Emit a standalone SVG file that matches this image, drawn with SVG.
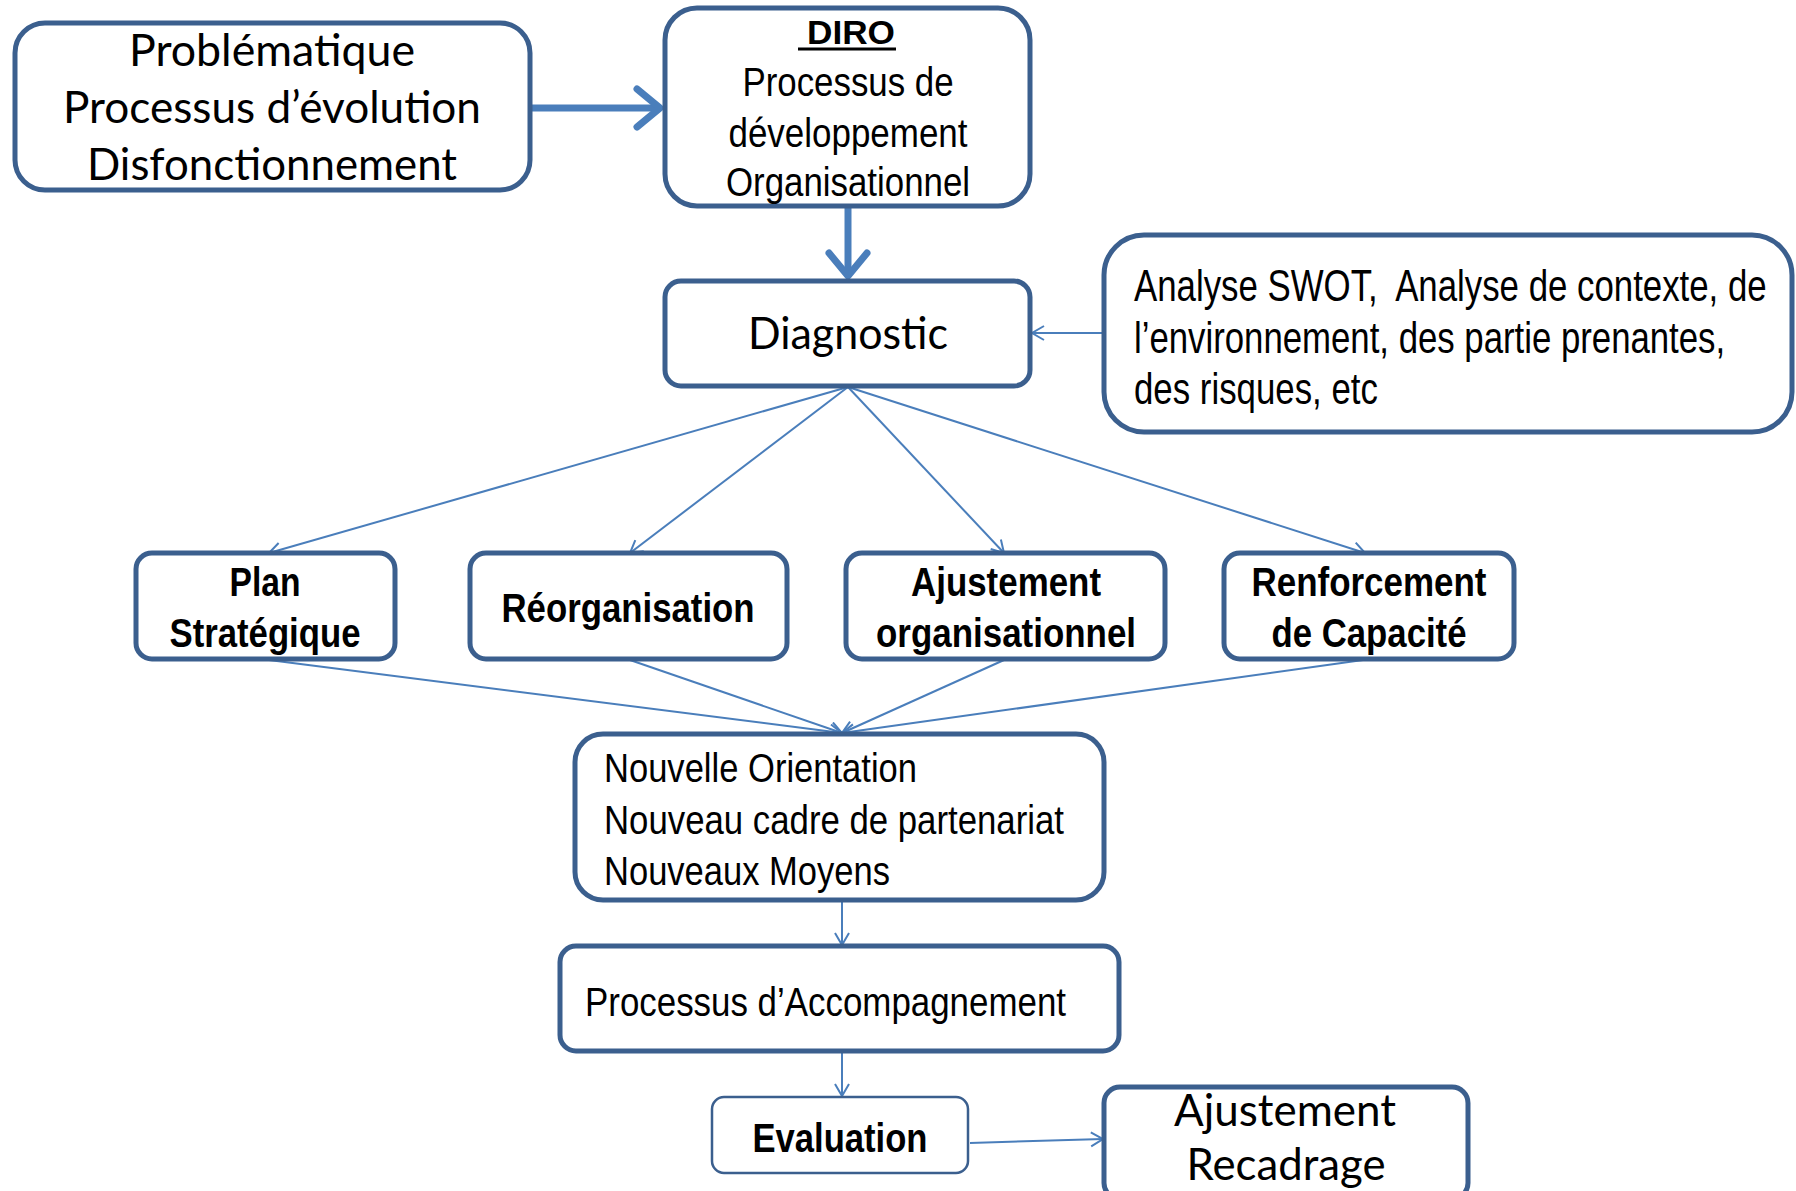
<svg xmlns="http://www.w3.org/2000/svg" width="1796" height="1191" viewBox="0 0 1796 1191">
<style>
.box{fill:#fff;stroke:#3B5F8E;stroke-width:5}
.thinbox{fill:#fff;stroke:#3B5F8E;stroke-width:2.5}
.cal{font-family:Lato,"Noto Sans",sans-serif;fill:#000}
.ar{font-family:"Liberation Sans",Arial,sans-serif;fill:#000}
.arb{font-family:"Liberation Sans",Arial,sans-serif;font-weight:bold;fill:#000}
.thin{stroke:#4A7EBB;stroke-width:2;fill:none}
.thick{stroke:#4A7EBB;stroke-width:7;fill:none}
</style>
<defs>
<marker id="ah" markerUnits="userSpaceOnUse" markerWidth="20" markerHeight="20" refX="13" refY="8" orient="auto">
<path d="M1,1 L13,8 L1,15" fill="none" stroke="#4A7EBB" stroke-width="2"/>
</marker>
<marker id="ahT" markerUnits="userSpaceOnUse" markerWidth="40" markerHeight="50" refX="30" refY="24" orient="auto">
<path d="M6,5 L29,24 L6,43" fill="none" stroke="#4A7EBB" stroke-width="7" stroke-linecap="round" stroke-linejoin="round"/>
</marker>
</defs>

<g id="connectors">
<line class="thick" x1="530" y1="108" x2="661" y2="108" marker-end="url(#ahT)"/>
<line class="thick" x1="848" y1="206" x2="848" y2="277" marker-end="url(#ahT)"/>
<line class="thin" x1="1104" y1="333" x2="1032" y2="333" marker-end="url(#ah)"/>
<line class="thin" x1="848" y1="387" x2="269" y2="553" marker-end="url(#ah)"/>
<line class="thin" x1="848" y1="387" x2="630" y2="553" marker-end="url(#ah)"/>
<line class="thin" x1="848" y1="387" x2="1004" y2="553" marker-end="url(#ah)"/>
<line class="thin" x1="848" y1="387" x2="1365" y2="553" marker-end="url(#ah)"/>
<line class="thin" x1="269" y1="660" x2="842" y2="733" marker-end="url(#ah)"/>
<line class="thin" x1="630" y1="660" x2="842" y2="733" marker-end="url(#ah)"/>
<line class="thin" x1="1004" y1="660" x2="842" y2="733" marker-end="url(#ah)"/>
<line class="thin" x1="1363" y1="660" x2="842" y2="733" marker-end="url(#ah)"/>
<line class="thin" x1="842" y1="901" x2="842" y2="945" marker-end="url(#ah)"/>
<line class="thin" x1="842" y1="1053" x2="842" y2="1096" marker-end="url(#ah)"/>
<line class="thin" x1="970" y1="1143" x2="1103" y2="1139" marker-end="url(#ah)"/>
</g>

<g id="n-problematique">
<rect class="box" x="15" y="23" width="515" height="167" rx="30"/>
<text class="cal" font-size="44" x="272" y="66" text-anchor="middle" textLength="286" lengthAdjust="spacingAndGlyphs">Problématique</text>
<text class="cal" font-size="44" x="272" y="123" text-anchor="middle" textLength="418" lengthAdjust="spacingAndGlyphs">Processus d’évolution</text>
<text class="cal" font-size="44" x="272" y="180" text-anchor="middle" textLength="370" lengthAdjust="spacingAndGlyphs">Disfonctionnement</text>
</g>

<g id="n-diro">
<rect class="box" x="665" y="8" width="365" height="198" rx="32"/>
<text class="arb" font-size="34" x="851" y="44" text-anchor="middle" textLength="88" lengthAdjust="spacingAndGlyphs">DIRO</text>
<line x1="798" y1="49" x2="896" y2="49" stroke="#000" stroke-width="3"/>
<text class="ar" font-size="40" x="848" y="96" text-anchor="middle" textLength="211" lengthAdjust="spacingAndGlyphs">Processus de</text>
<text class="ar" font-size="40" x="848" y="147" text-anchor="middle" textLength="239" lengthAdjust="spacingAndGlyphs">développement</text>
<text class="ar" font-size="40" x="848" y="196" text-anchor="middle" textLength="244" lengthAdjust="spacingAndGlyphs">Organisationnel</text>
</g>

<g id="n-diagnostic">
<rect class="box" x="665" y="281" width="365" height="105" rx="16"/>
<text class="cal" font-size="44" x="848" y="349" text-anchor="middle" textLength="200" lengthAdjust="spacingAndGlyphs">Diagnostic</text>
</g>

<g id="n-analyse">
<rect class="box" x="1104" y="235" width="688" height="197" rx="40"/>
<g transform="translate(1134,0) scale(0.784,1)">
<text class="ar" font-size="44" x="0" y="301" textLength="807" lengthAdjust="spacingAndGlyphs">Analyse SWOT,&#160; Analyse de contexte, de</text>
<text class="ar" font-size="44" x="0" y="353" textLength="754" lengthAdjust="spacingAndGlyphs">l’environnement, des partie prenantes,</text>
<text class="ar" font-size="44" x="0" y="404" textLength="311" lengthAdjust="spacingAndGlyphs">des risques, etc</text>
</g>
</g>

<g id="n-plan">
<rect class="box" x="136" y="553" width="259" height="106" rx="16"/>
<text class="arb" font-size="40" x="265" y="596" text-anchor="middle" textLength="71" lengthAdjust="spacingAndGlyphs">Plan</text>
<text class="arb" font-size="40" x="265" y="647" text-anchor="middle" textLength="191" lengthAdjust="spacingAndGlyphs">Stratégique</text>
</g>

<g id="n-reorganisation">
<rect class="box" x="470" y="553" width="317" height="106" rx="16"/>
<text class="arb" font-size="40" x="628" y="622" text-anchor="middle" textLength="253" lengthAdjust="spacingAndGlyphs">Réorganisation</text>
</g>

<g id="n-ajustement-org">
<rect class="box" x="846" y="553" width="319" height="106" rx="16"/>
<text class="arb" font-size="40" x="1006" y="596" text-anchor="middle" textLength="190" lengthAdjust="spacingAndGlyphs">Ajustement</text>
<text class="arb" font-size="40" x="1006" y="647" text-anchor="middle" textLength="260" lengthAdjust="spacingAndGlyphs">organisationnel</text>
</g>

<g id="n-renforcement">
<rect class="box" x="1224" y="553" width="290" height="106" rx="16"/>
<text class="arb" font-size="40" x="1369" y="596" text-anchor="middle" textLength="235" lengthAdjust="spacingAndGlyphs">Renforcement</text>
<text class="arb" font-size="40" x="1369" y="647" text-anchor="middle" textLength="195" lengthAdjust="spacingAndGlyphs">de Capacité</text>
</g>

<g id="n-nouvelle">
<rect class="box" x="575" y="734" width="529" height="166" rx="28"/>
<text class="ar" font-size="40" x="604" y="782" textLength="313" lengthAdjust="spacingAndGlyphs">Nouvelle Orientation</text>
<text class="ar" font-size="40" x="604" y="834" textLength="460" lengthAdjust="spacingAndGlyphs">Nouveau cadre de partenariat</text>
<text class="ar" font-size="40" x="604" y="885" textLength="286" lengthAdjust="spacingAndGlyphs">Nouveaux Moyens</text>
</g>

<g id="n-accompagnement">
<rect class="box" x="560" y="946" width="559" height="105" rx="16"/>
<text class="ar" font-size="40" x="585" y="1016" textLength="481" lengthAdjust="spacingAndGlyphs">Processus d’Accompagnement</text>
</g>

<g id="n-evaluation">
<rect class="thinbox" x="712" y="1097" width="256" height="76" rx="12"/>
<text class="arb" font-size="40" x="840" y="1152" text-anchor="middle" textLength="175" lengthAdjust="spacingAndGlyphs">Evaluation</text>
</g>

<g id="n-recadrage">
<rect class="box" x="1104" y="1087" width="364" height="112" rx="16"/>
<text class="cal" font-size="44" x="1285" y="1126" text-anchor="middle" textLength="222" lengthAdjust="spacingAndGlyphs">Ajustement</text>
<text class="cal" font-size="44" x="1286" y="1180" text-anchor="middle" textLength="199" lengthAdjust="spacingAndGlyphs">Recadrage</text>
</g>
</svg>
